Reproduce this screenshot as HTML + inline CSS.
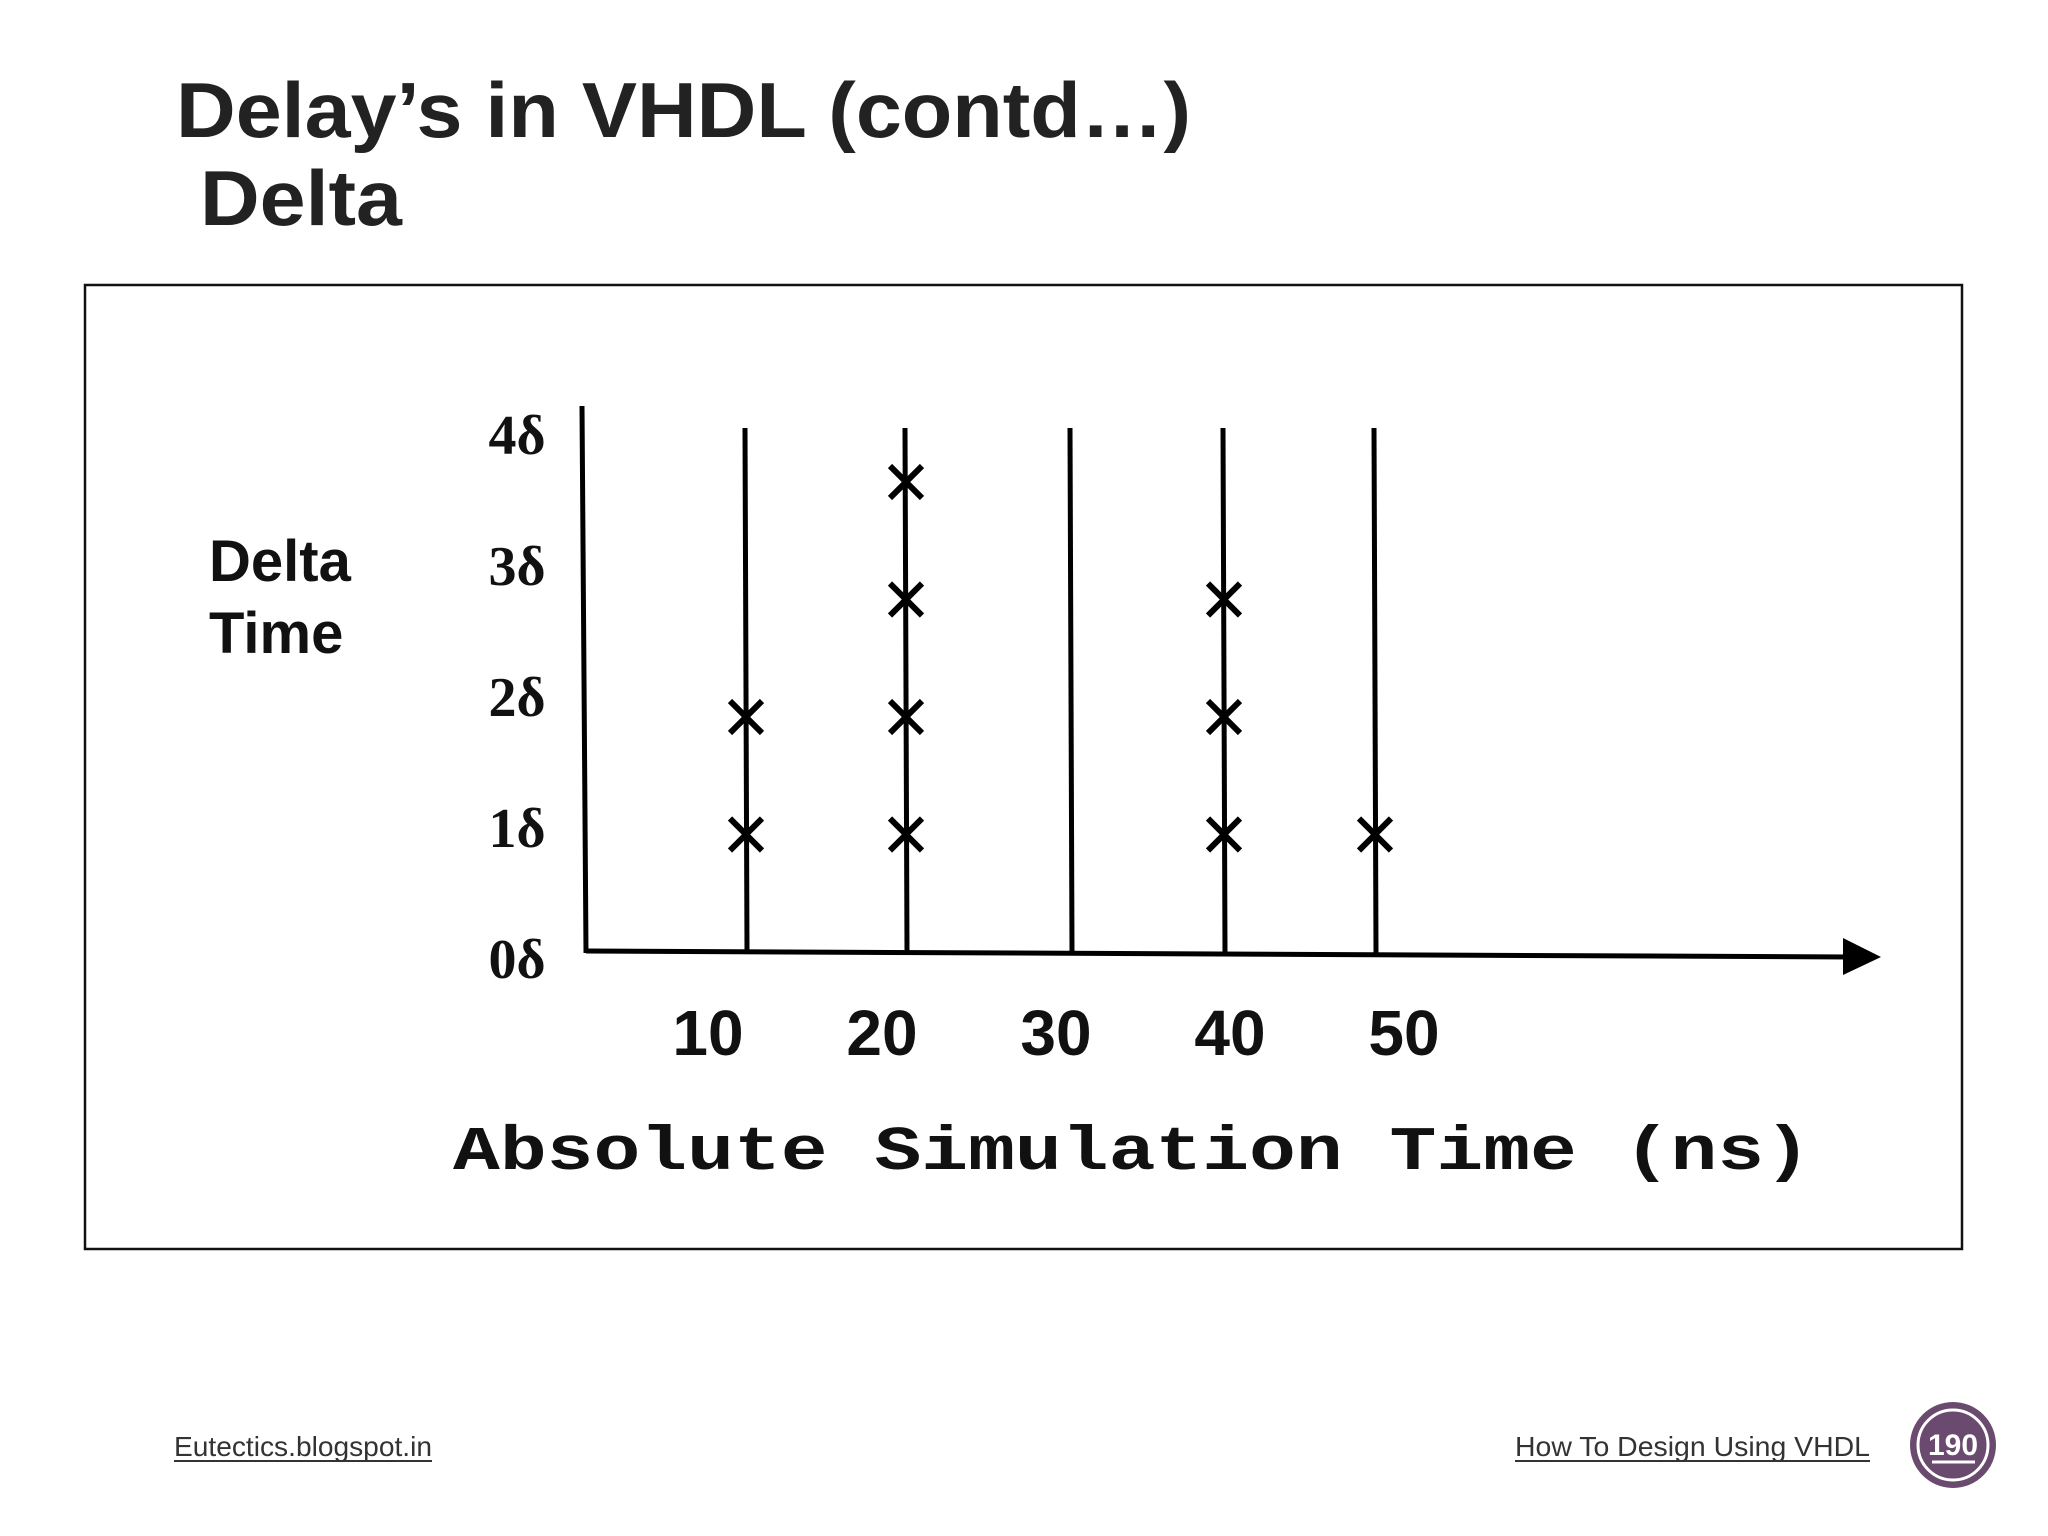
<!DOCTYPE html>
<html><head><meta charset="utf-8"><style>
html,body{margin:0;padding:0;background:#fff;}
svg{display:block;}
</style></head><body>
<svg id="chart" width="2048" height="1536" viewBox="0 0 2048 1536" xmlns="http://www.w3.org/2000/svg">
<text x="176" y="137" font-family="Liberation Sans, sans-serif" font-weight="bold" font-size="78" fill="#222" textLength="1015" lengthAdjust="spacingAndGlyphs">Delay’s in VHDL (contd…)</text>
<text x="200" y="225" font-family="Liberation Sans, sans-serif" font-weight="bold" font-size="78" fill="#222" textLength="202" lengthAdjust="spacingAndGlyphs">Delta</text>
<rect x="85" y="285" width="1877" height="964" fill="none" stroke="#111" stroke-width="2.5"/>
<g id="plot"></g>
<text x="209" y="581" font-family="Liberation Sans, sans-serif" font-weight="bold" font-size="58" fill="#111">Delta</text>
<text x="209" y="653" font-family="Liberation Sans, sans-serif" font-weight="bold" font-size="58" fill="#111">Time</text>
<text x="453" y="1169" font-family="Liberation Mono, monospace" font-weight="bold" font-size="62" fill="#111" textLength="1358" lengthAdjust="spacingAndGlyphs">Absolute Simulation Time (ns)</text>
<text x="174" y="1456" font-family="Liberation Sans, sans-serif" font-size="28" fill="#333" textLength="258" lengthAdjust="spacingAndGlyphs">Eutectics.blogspot.in</text>
<line x1="174" y1="1461" x2="432" y2="1461" stroke="#333" stroke-width="2"/>
<text x="1515" y="1456" font-family="Liberation Sans, sans-serif" font-size="28" fill="#333" textLength="355" lengthAdjust="spacingAndGlyphs">How To Design Using VHDL</text>
<line x1="1515" y1="1461" x2="1870" y2="1461" stroke="#333" stroke-width="2"/>
<g>
<circle cx="1953" cy="1445" r="43" fill="#6a4a6e"/>
<circle cx="1953" cy="1445" r="35" fill="none" stroke="#fff" stroke-width="3"/>
<text x="1953" y="1455" text-anchor="middle" font-family="Liberation Sans, sans-serif" font-weight="bold" font-size="30" fill="#fff">190</text>
<line x1="1932" y1="1462" x2="1975" y2="1462" stroke="#fff" stroke-width="3"/>
</g>
</svg>
<script>
const timeCategories = [10, 20, 30, 40, 50];
const deltaCounts = [2, 4, 0, 3, 1];
const yTickLabels = ["0δ", "1δ", "2δ", "3δ", "4δ"];
const xTickLabels = ["10", "20", "30", "40", "50"];

const NS = "http://www.w3.org/2000/svg";
const plot = document.getElementById('plot');
function xPos(t){ return 746 + (t - 10) * 15.9; }
function lineX(t){ return [746, 906, 1071, 1224, 1375][timeCategories.indexOf(t)] ?? xPos(t); }
function yPos(d){ return 951 - d * 117.5; }
function yLabelPos(d){ return 960 - d * 131; }
function xLabelPos(i){ return 708 + i * 174; }
function mk(tag, attrs){ const e = document.createElementNS(NS, tag); for (const k in attrs) e.setAttribute(k, attrs[k]); plot.appendChild(e); return e; }

let e;
e = mk('line', {x1:582, y1:406, x2:586, y2:953, stroke:'#000', 'stroke-width':5});


e = mk('line', {x1:586, y1:951, x2:1850, y2:957, stroke:'#000', 'stroke-width':5});


e = mk('polygon', {points:'1843,938 1881,957 1843,975', fill:'#000'});



yTickLabels.forEach((lab, i) => {
  const t = mk('text', {x:517, y:yLabelPos(i)+18, 'text-anchor':'middle', 'font-family':'Liberation Serif, serif', 'font-size':56, 'font-weight':'bold', fill:'#111'});
  t.textContent = lab;
  
  
});
xTickLabels.forEach((lab, i) => {
  const t = mk('text', {x:xLabelPos(i), y:1055, 'text-anchor':'middle', 'font-family':'Liberation Sans, sans-serif', 'font-weight':'bold', 'font-size':64, fill:'#111'});
  t.textContent = lab;
  
  
});
timeCategories.forEach((t, i) => {
  const x = lineX(t);
  const l = mk('line', {x1:x-1, y1:yPos(4)-53, x2:x+1, y2:yPos(0)+2, stroke:'#000', 'stroke-width':5});
  
  
  for (let d = 1; d <= deltaCounts[i]; d++) {
    const y = yPos(d) + 1, s = 16;
    const p = mk('path', {d:`M${x-s},${y-s}L${x+s},${y+s}M${x+s},${y-s}L${x-s},${y+s}`, stroke:'#000', 'stroke-width':6, fill:'none'});
    
    
  }
});
</script>
</body></html>
